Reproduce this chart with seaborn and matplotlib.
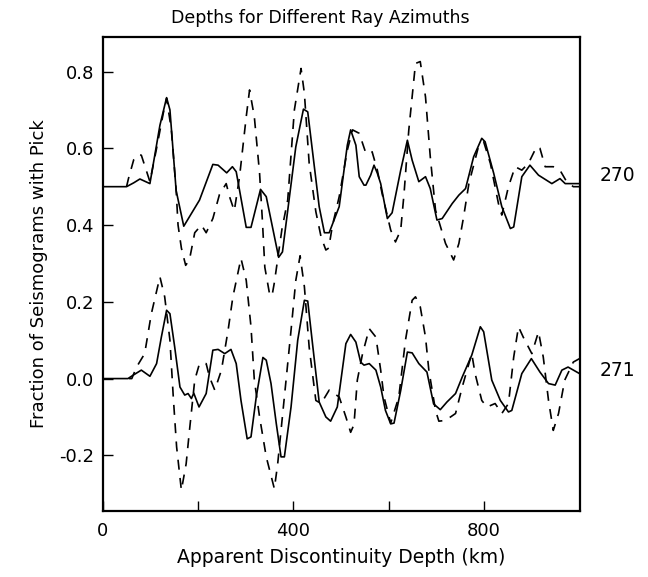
import matplotlib
matplotlib.use('Agg')
import matplotlib.pyplot as plt
import matplotlib.transforms as mtransforms
import seaborn as sns

# depth (km) / fraction values, azimuth 270 (drawn about 0.5)
depth_270_solid = [0, 50, 65, 78, 99, 120, 134, 141, 154, 170, 186, 203, 231, 242, 260, 272, 280,
                   301, 311, 331, 343, 369, 377, 405, 421, 430, 454, 465, 475, 496, 513, 520, 531,
                   538, 548, 552, 562, 569, 576, 583, 597, 607, 625, 639, 649, 663, 677, 687, 701,
                   712, 733, 747, 761, 778, 795, 802, 820, 837, 855, 862, 879, 896, 914, 942, 959,
                   970, 1000]
frac_270_solid = [0.50, 0.50, 0.51, 0.52, 0.508, 0.66, 0.732, 0.70, 0.49, 0.397, 0.43, 0.465, 0.558,
                  0.556, 0.536, 0.552, 0.539, 0.394, 0.394, 0.493, 0.474, 0.316, 0.330, 0.604, 0.702,
                  0.695, 0.448, 0.380, 0.380, 0.448, 0.608, 0.648, 0.608, 0.526, 0.504, 0.504, 0.53,
                  0.556, 0.535, 0.508, 0.417, 0.432, 0.543, 0.621, 0.569, 0.513, 0.526, 0.495, 0.413,
                  0.417, 0.456, 0.478, 0.495, 0.578, 0.626, 0.617, 0.535, 0.448, 0.391, 0.395, 0.526,
                  0.556, 0.530, 0.508, 0.521, 0.508, 0.508]

depth_270_dash = [50, 54, 65, 75, 81, 92, 99, 113, 127, 134, 144, 154, 158, 165, 174, 182, 193, 207,
                  217, 231, 245, 259, 266, 276, 287, 301, 308, 318, 329, 335, 340, 350, 355, 360,
                  376, 388, 402, 416, 423, 433, 447, 458, 468, 474, 482, 496, 513, 524, 538, 552,
                  565, 576, 586, 604, 614, 625, 632, 642, 656, 666, 677, 687, 698, 719, 736, 747,
                  757, 768, 788, 799, 813, 830, 837, 851, 865, 879, 893, 910, 917, 928, 945, 959,
                  973, 987, 1000]
frac_270_dash = [0.50, 0.521, 0.57, 0.584, 0.582, 0.54, 0.513, 0.60, 0.691, 0.730, 0.648, 0.491,
                 0.40, 0.34, 0.295, 0.31, 0.38, 0.40, 0.38, 0.417, 0.48, 0.508, 0.474, 0.437, 0.526,
                 0.682, 0.752, 0.682, 0.535, 0.41, 0.29, 0.22, 0.215, 0.25, 0.39, 0.465, 0.700,
                 0.808, 0.743, 0.561, 0.435, 0.369, 0.335, 0.34, 0.400, 0.474, 0.595, 0.648, 0.639,
                 0.587, 0.591, 0.543, 0.482, 0.387, 0.356, 0.387, 0.482, 0.648, 0.821, 0.826, 0.734,
                 0.578, 0.439, 0.352, 0.309, 0.352, 0.422, 0.508, 0.604, 0.617, 0.561, 0.456, 0.426,
                 0.500, 0.552, 0.543, 0.561, 0.604, 0.600, 0.552, 0.552, 0.543, 0.513, 0.500, 0.50]

# azimuth 271 (drawn about 0)
depth_271_solid = [0, 53, 64, 81, 99, 113, 123, 134, 141, 151, 162, 172, 179, 186, 191, 202, 217,
                   231, 242, 256, 269, 280, 290, 303, 311, 322, 336, 343, 353, 364, 374, 381, 395,
                   409, 423, 430, 440, 454, 468, 478, 492, 510, 520, 531, 541, 548, 559, 573, 583,
                   593, 604, 611, 625, 639, 649, 663, 680, 694, 708, 722, 740, 754, 774, 792, 799,
                   816, 834, 851, 858, 879, 899, 917, 935, 949, 963, 976, 1000]
frac_271_solid = [0, 0, 0.009, 0.022, 0.006, 0.039, 0.108, 0.178, 0.169, 0.082, -0.022, -0.043,
                  -0.039, -0.052, -0.038, -0.074, -0.039, 0.074, 0.076, 0.065, 0.076, 0.039, -0.057,
                  -0.157, -0.152, -0.048, 0.055, 0.048, -0.013, -0.117, -0.204, -0.204, -0.074,
                  0.100, 0.204, 0.202, 0.091, -0.061, -0.100, -0.111, -0.074, 0.091, 0.115, 0.095,
                  0.043, 0.035, 0.039, 0.022, -0.022, -0.083, -0.118, -0.116, -0.031, 0.069, 0.067,
                  0.039, 0.017, -0.066, -0.081, -0.061, -0.039, 0.004, 0.061, 0.135, 0.122, -0.004,
                  -0.057, -0.087, -0.083, 0.013, 0.052, 0.017, -0.013, -0.017, 0.022, 0.030, 0.013]

depth_271_dash = [55, 61, 71, 88, 102, 120, 130, 141, 148, 155, 165, 175, 182, 193, 203, 217, 224,
                  235, 249, 263, 273, 290, 301, 311, 318, 329, 343, 360, 367, 381, 395, 405, 414,
                  423, 433, 447, 458, 475, 496, 510, 520, 527, 534, 545, 559, 573, 583, 590, 604,
                  621, 635, 649, 656, 666, 677, 684, 698, 705, 719, 740, 754, 774, 781, 795, 806,
                  823, 837, 851, 862, 872, 882, 900, 914, 924, 935, 945, 956, 969, 987, 1000]
frac_271_dash = [0, 0.0, 0.03, 0.065, 0.169, 0.265, 0.213, 0.100, -0.048, -0.178, -0.291, -0.222,
                 -0.135, -0.004, 0.039, 0.039, 0.004, -0.030, 0.022, 0.126, 0.213, 0.313, 0.256,
                 0.135, -0.004, -0.100, -0.204, -0.287, -0.222, -0.048, 0.126, 0.256, 0.32, 0.239,
                 0.082, -0.057, -0.065, -0.030, -0.048, -0.100, -0.14, -0.12, -0.004, 0.065, 0.130,
                 0.108, 0.022, -0.048, -0.116, -0.048, 0.100, 0.204, 0.213, 0.187, 0.108, 0.022,
                 -0.083, -0.111, -0.109, -0.091, -0.022, 0.065, 0.013, -0.057, -0.074, -0.065,
                 -0.091, -0.065, 0.056, 0.135, 0.108, 0.065, 0.122, 0.056, -0.057, -0.135, -0.091,
                 -0.004, 0.043, 0.052]

azimuth_labels = ['270', '271']
azimuth_label_y = [0.53, 0.02]

x_ticks = [0, 200, 400, 600, 800]
x_tick_labels = ['0', '', '400', '', '800']
y_ticks = [-0.2, 0.0, 0.2, 0.4, 0.6, 0.8]
y_tick_labels = ['-0.2', '0.0', '0.2', '0.4', '0.6', '0.8']

sns.set_style('ticks', {'xtick.direction': 'in', 'ytick.direction': 'in'})
plt.rcParams['font.family'] = ['DejaVu Sans']
plt.rcParams['text.color'] = 'black'
plt.rcParams['axes.labelcolor'] = 'black'

fig = plt.figure(figsize=(6.48, 5.77), dpi=100)
ax = fig.add_axes([0.1585, 0.1144, 0.7358, 0.8215])

curves = [
    (depth_270_solid, frac_270_solid, '-'),
    (depth_270_dash, frac_270_dash, (0, (6, 5))),
    (depth_271_solid, frac_271_solid, '-'),
    (depth_271_dash, frac_271_dash, (0, (6, 5))),
]
for x, y, ls in curves:
    sns.lineplot(x=x, y=y, ax=ax, color='black', linewidth=1.2, linestyle=ls,
                 estimator=None, sort=False)

ax.set_xlim(0, 1000)
ax.set_ylim(-0.345, 0.89)
ax.set_xticks(x_ticks)
ax.set_xticklabels(x_tick_labels)
ax.set_yticks(y_ticks)
ax.set_yticklabels(y_tick_labels)
ax.tick_params(axis='both', direction='in', length=7, width=1, labelsize=13,
               colors='black', labelcolor='black')
ax.tick_params(axis='x', pad=8)
ax.tick_params(axis='y', pad=6)
for sp in ax.spines.values():
    sp.set_visible(True)
    sp.set_linewidth(1.6)
    sp.set_color('black')

ax.set_xlabel('Apparent Discontinuity Depth (km)', fontsize=13.5, labelpad=6, color='black')
ax.set_ylabel('Fraction of Seismograms with Pick', fontsize=13, labelpad=8, color='black')
fig.text(0.494, 0.968, 'Depths for Different Ray Azimuths', ha='center', va='center',
         fontsize=12.5, color='black')

trans = mtransforms.blended_transform_factory(ax.transAxes, ax.transData)
for lab, yy in zip(azimuth_labels, azimuth_label_y):
    ax.text(1.043, yy, lab, transform=trans, ha='left', va='center', fontsize=13.5, color='black')

fig.savefig('out.png', dpi=100)
